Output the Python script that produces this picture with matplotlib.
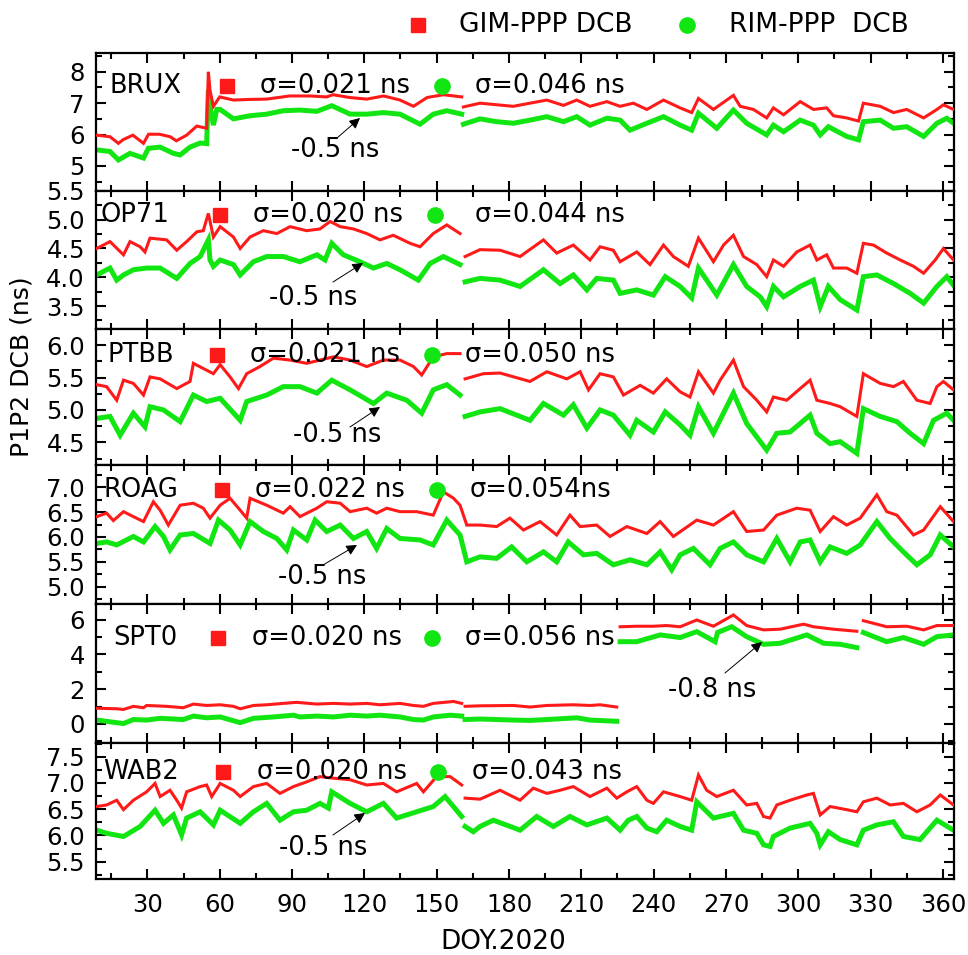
import numpy as np
import matplotlib
matplotlib.use("Agg")
import matplotlib.pyplot as plt
from matplotlib.ticker import MultipleLocator, FormatStrFormatter
from matplotlib.lines import Line2D

plt.rcParams['font.family'] = ['DejaVu Sans']
nan = np.nan

# ---------------- data (DOY, DCB in ns) ----------------
stations = ["BRUX", "OP71", "PTBB", "ROAG", "SPT0", "WAB2"]
sigma_gim = ["σ=0.021 ns", "σ=0.020 ns", "σ=0.021 ns", "σ=0.022 ns", "σ=0.020 ns", "σ=0.020 ns"]
sigma_rim = ["σ=0.046 ns", "σ=0.044 ns", "σ=0.050 ns", "σ=0.054ns", "σ=0.056 ns", "σ=0.043 ns"]
offset_labels = ["-0.5 ns", "-0.5 ns", "-0.5 ns", "-0.5 ns", "-0.8 ns", "-0.5 ns"]

brux_gim = [(9,5.98),(14.5,5.93),(18,5.72),(20,5.84),(24,5.98),(28.4,5.72),(30.5,6.01),(35,6.01),(39.5,5.93),
            (42,5.80),(46.3,5.98),(50.5,6.27),(54.6,6.2),(55.3,8.0),(56,7.4),(57.4,6.9),(60,7.2),(65.7,7.1),
            (72.6,7.12),(79.5,7.13),(89,7.23),(97.5,7.23),(104.4,7.2),(107,7.27),(114,7.18),(121,7.13),(128,7.23),
            (134.8,7.1),(140.4,6.9),(146,7.18),(152.8,7.27),(160.4,7.2),(160.8,nan),(161.1,6.88),(168,7.0),
            (174.9,6.95),(181.8,6.9),(188.7,7.0),(195.7,7.1),(202.6,6.93),(208.1,7.1),(213.6,6.9),(220.6,7.05),
            (226.1,6.9),(231.6,7.0),(237.2,6.8),(244.1,7.1),(251,6.85),(255.8,6.7),(258.6,7.15),(264.8,6.8),
            (273.1,7.25),(275.9,6.9),(281.4,6.8),(286.9,6.53),(289.7,6.85),(293.9,6.63),(300.8,7.05),(306.3,6.8),
            (311.8,6.85),(314.6,6.6),(320.1,6.53),(325,6.43),(327,7.0),(334,6.9),(339.5,6.7),(345,6.8),(352,6.53),
            (357.5,6.8),(360.2,6.95),(364.4,6.8)]
brux_rim = [(9,5.51),(14.5,5.46),(18,5.19),(22.8,5.4),(28.4,5.25),(30.4,5.56),(35.3,5.6),(40.8,5.4),(43.6,5.35),
            (47.7,5.6),(51.9,5.73),(54.6,5.71),(55.3,7.42),(56,6.9),(57.4,6.3),(58.8,6.8),(60.2,6.8),(65.7,6.5),
            (72.6,6.6),(79.5,6.65),(86.4,6.76),(93.3,6.78),(100.3,6.74),(106.5,6.92),(114.1,6.65),(121,6.65),
            (127.9,6.7),(134.8,6.65),(143.1,6.33),(148.6,6.65),(154.2,6.76),(160.4,6.65),(160.8,nan),(161.1,6.33),
            (168,6.5),(174.9,6.41),(181.8,6.36),(188.7,6.46),(195.7,6.57),(202.6,6.41),(208.1,6.57),(213.6,6.30),
            (220.6,6.52),(226.1,6.46),(230.2,6.14),(237.2,6.36),(244.1,6.57),(251,6.30),(255.8,6.14),(258.6,6.68),
            (266.2,6.2),(273.1,6.78),(278.6,6.36),(286.9,5.99),(289.7,6.30),(293.9,6.09),(300.8,6.46),(306.3,6.30),
            (309.1,5.99),(312.5,6.25),(320.1,5.94),(325,5.83),(327,6.41),(334,6.46),(339.5,6.2),(345,6.25),
            (352,5.94),(357.5,6.36),(361.6,6.52),(364.4,6.36)]

op71_gim = [(9,4.50),(14.5,4.62),(20.1,4.39),(22.8,4.62),(27,4.53),(29,4.44),(31.1,4.68),(38,4.65),(42.2,4.47),
            (46.3,4.62),(50.5,4.79),(53.2,4.81),(55.3,5.11),(57.4,4.70),(60.2,4.88),(65.7,4.70),(68.5,4.50),
            (72.6,4.70),(78.1,4.81),(83.7,4.76),(89.2,4.88),(96.1,4.81),(101.6,4.84),(105.8,4.97),(110,4.88),
            (115.5,4.84),(121,4.76),(126.5,4.65),(132,4.73),(139,4.59),(143.1,4.53),(148.6,4.76),(154.2,4.91),
            (159.7,4.76),(160.8,nan),(161.8,4.36),(168,4.48),(176.3,4.47),(184.6,4.36),(194.3,4.65),(199.8,4.42),
            (206.7,4.56),(213.6,4.30),(217.8,4.53),(223.3,4.47),(226.1,4.27),(233,4.44),(238.5,4.22),(244.1,4.56),
            (248.2,4.36),(254.4,4.19),(258.6,4.68),(264.8,4.27),(269,4.56),(273.1,4.73),(277.3,4.36),(282.8,4.22),
            (286.9,4.01),(289.7,4.30),(293.9,4.19),(299.4,4.44),(304.9,4.56),(307.7,4.30),(311.8,4.39),(314.6,4.16),
            (320.1,4.16),(324.3,4.07),(327,4.59),(331.2,4.56),(336.7,4.42),(342.3,4.30),(347.8,4.19),(352,4.07),
            (356.8,4.30),(360.2,4.50),(364.4,4.30)]
op71_rim = [(9,4.04),(14.5,4.16),(17.3,3.95),(20.1,4.04),(24.2,4.13),(29.7,4.16),(35.3,4.16),(42.2,3.98),(47.7,4.24),
            (51.9,4.36),(55.3,4.65),(56,4.3),(57.4,4.19),(60.2,4.30),(65.7,4.22),(68.5,4.04),(74,4.27),(79.5,4.36),
            (86.4,4.36),(93.3,4.27),(100.3,4.39),(103.7,4.30),(106.5,4.59),(111.3,4.39),(118.2,4.27),(123.8,4.16),
            (129.3,4.24),(134.8,4.13),(142.4,3.95),(147.3,4.24),(152.8,4.36),(159.7,4.22),(160.8,nan),(161.8,3.92),
            (168,3.98),(176.3,3.95),(184.6,3.84),(194.3,4.13),(201.2,3.89),(206.7,4.04),(212.3,3.78),(216.4,3.98),
            (223.3,3.95),(226.1,3.72),(233,3.78),(239.9,3.69),(244.8,4.01),(251,3.84),(255.8,3.64),(258.6,4.16),
            (266.2,3.69),(273.1,4.22),(278.6,3.84),(284.2,3.66),(286.9,3.49),(289.7,3.84),(293.9,3.66),(300.8,3.84),
            (306.3,3.95),(309.1,3.49),(312.5,3.84),(317.4,3.61),(324.3,3.43),(327,4.01),(332.6,4.04),(339.5,3.89),
            (346.4,3.72),(352,3.55),(357.5,3.84),(361.6,4.01),(364.4,3.86)]

ptbb_gim = [(9,5.39),(13.1,5.36),(17.3,5.15),(20.1,5.46),(24.2,5.41),(28.4,5.23),(31.1,5.51),(35.3,5.48),(42.2,5.33),
            (47.7,5.44),(49.1,5.72),(53.2,5.64),(57.4,5.56),(60.2,5.70),(64.3,5.51),(67.8,5.33),(71.2,5.56),
            (76.7,5.67),(82.3,5.80),(89.2,5.77),(96.1,5.72),(101.6,5.77),(107.2,5.82),(114.1,5.77),(121,5.67),
            (127.9,5.77),(134.8,5.77),(140.4,5.67),(143.8,5.54),(148.6,5.82),(154.2,5.87),(159.7,5.87),(160.8,nan),
            (161.8,5.48),(169.4,5.56),(176.3,5.57),(188.7,5.44),(195.7,5.59),(204,5.48),(209.5,5.59),(213,5.31),
            (217.8,5.56),(223.3,5.51),(227.5,5.23),(234.4,5.38),(239.9,5.26),(245.4,5.48),(251,5.28),(255.1,5.20),
            (258.6,5.59),(264.8,5.26),(267.6,5.46),(273.1,5.77),(277.3,5.36),(282.8,5.15),(286.9,4.97),(289.7,5.20),
            (295.2,5.15),(300.8,5.33),(304.9,5.46),(307.7,5.15),(313.2,5.10),(317.4,5.05),(324.3,4.90),(327,5.56),
            (334,5.41),(339.5,5.36),(343.6,5.44),(349.2,5.15),(354.7,5.10),(357.5,5.36),(360.2,5.44),(364.4,5.31)]
ptbb_rim = [(9,4.87),(14.5,4.90),(18.7,4.61),(24.2,4.95),(29,4.74),(31.1,5.05),(36.7,5.0),(43.6,4.82),(49.1,5.23),
            (54.6,5.13),(60.2,5.18),(68.5,4.84),(71.2,5.13),(79.5,5.23),(86.4,5.36),(93.3,5.36),(100.3,5.26),
            (106.5,5.46),(114.1,5.31),(123.8,5.10),(129.3,5.26),(137.6,5.15),(143.8,4.95),(148.6,5.31),(154.2,5.39),
            (159.7,5.23),(160.8,nan),(161.8,4.90),(168,4.97),(176.3,5.02),(188.7,4.84),(194.3,5.10),(202.6,4.92),
            (206.7,5.08),(212.3,4.72),(217.8,5.0),(223.3,4.92),(230.2,4.61),(233,4.84),(239.9,4.66),(244.8,4.97),
            (251,4.77),(255.1,4.61),(258.6,5.05),(264.8,4.64),(273.1,5.26),(278.6,4.79),(286.9,4.38),(291.1,4.64),
            (296.6,4.66),(304.9,4.92),(307.7,4.64),(313.2,4.48),(317.4,4.51),(324.3,4.33),(327,5.02),(334,4.90),
            (340.9,4.82),(346.4,4.64),(352,4.48),(356.1,4.84),(361.6,4.95),(364.4,4.84)]

roag_gim = [(9,6.41),(13.1,6.48),(15.9,6.33),(20.1,6.51),(24.2,6.41),(28.4,6.31),(32.5,6.71),(35.3,6.54),(38.7,6.24),
            (43.6,6.64),(49.1,6.68),(53.2,6.58),(56,6.38),(60.2,6.64),(64.3,6.78),(68.5,6.54),(71.2,6.38),(72.6,6.78),
            (79.5,6.64),(86.4,6.48),(89.2,6.61),(93.3,6.41),(100.3,6.58),(104.4,6.71),(110,6.68),(114.1,6.51),
            (121,6.58),(125.1,6.48),(129.3,6.58),(134.8,6.51),(141.7,6.51),(148.6,6.44),(152.8,6.91),(157,6.78),
            (159.7,6.64),(162.5,6.24),(168,6.24),(174.9,6.21),(180.4,6.38),(186,6.14),(192.9,6.31),(199.8,6.04),
            (205.3,6.44),(209.5,6.21),(216.4,6.24),(221.9,6.01),(228.9,6.21),(237.2,6.07),(242.7,6.31),(248.2,6.01),
            (257.9,6.34),(264.8,6.24),(273.1,6.51),(278.6,6.11),(285.6,6.14),(291.1,6.44),(299.4,6.58),(304.9,6.54),
            (309.1,6.11),(314.6,6.41),(320.1,6.24),(325.7,6.38),(332.6,6.85),(336.7,6.51),(340.9,6.44),(347.8,6.04),
            (352,6.14),(358.9,6.61),(364.4,6.31)]
roag_rim = [(9,5.87),(13.1,5.90),(17.3,5.84),(24.2,6.01),(28.4,5.90),(33.2,6.21),(36.7,6.01),(39.4,5.74),(43.6,6.04),
            (49.1,6.07),(56,5.87),(59.5,6.34),(64.3,6.14),(68.5,5.84),(72.6,6.31),(78.1,6.11),(83.7,5.97),(87.8,5.74),
            (90.6,6.14),(96.1,5.94),(99.6,6.34),(104.4,6.11),(110,6.24),(115.5,5.97),(121,6.11),(125.1,5.77),
            (129.3,6.17),(134.8,5.97),(143.1,5.94),(148.6,5.84),(154.2,6.34),(159.7,6.04),(162.5,5.50),(168,5.60),
            (174.9,5.57),(181.1,5.80),(187.4,5.50),(194.3,5.70),(199.8,5.50),(204.6,5.90),(210.9,5.64),(216.4,5.67),
            (223.3,5.44),(230.2,5.54),(237.2,5.44),(242.7,5.70),(247.5,5.34),(251,5.64),(256.5,5.77),(263.4,5.44),
            (267.6,5.77),(273.1,5.90),(278.6,5.64),(285.6,5.50),(291.1,5.97),(296.6,5.50),(300.8,5.90),(304.9,5.94),
            (309.1,5.50),(313.2,5.80),(320.1,5.67),(325.7,5.84),(332.6,6.31),(338.1,5.97),(343.6,5.70),(349.2,5.44),
            (354.7,5.64),(358.9,6.04),(364.4,5.80)]

spt0_gim = [(9,0.90),(17.3,0.87),(20.1,0.83),(24.2,1.01),(28.4,0.93),(29.7,1.06),(38,1.01),(44.9,0.93),(49.1,1.14),
            (54.6,1.06),(60.2,1.10),(65.7,1.01),(68.5,0.87),(74,1.06),(79.5,1.10),(86.4,1.18),(91.9,1.24),(100.3,1.14),
            (107.2,1.18),(114.1,1.14),(121,1.18),(126.5,1.10),(134.8,1.18),(140.4,1.06),(144.5,1.01),(148.6,1.18),
            (157,1.29),(160.4,1.18),(160.8,nan),(161.8,1.01),(168,1.04),(181.8,1.06),(188.7,0.97),(195.7,1.06),
            (206.7,1.10),(213.6,1.06),(217.8,1.10),(224.7,0.97),(225.4,nan),(226.1,5.59),(233,5.62),(239.9,5.62),
            (245.4,5.66),(251,5.59),(257.9,5.98),(264.8,5.62),(273.1,6.27),(278.6,5.66),(285.6,5.41),(292.5,5.45),
            (302.2,5.74),(306.3,5.59),(314.6,5.45),(324.3,5.33),(325.5,nan),(327,5.94),(336.7,5.59),(345,5.62),
            (352,5.41),(357.5,5.66),(364.4,5.66)]
spt0_rim = [(9,0.22),(14.5,0.12),(20.1,0.02),(24.2,0.25),(29.7,0.22),(35.3,0.32),(44.9,0.25),(49.1,0.45),(54.6,0.35),
            (60.2,0.40),(68.5,0.07),(74,0.32),(82.3,0.40),(90.6,0.50),(93.3,0.40),(100.3,0.45),(107.2,0.40),
            (114.1,0.50),(121,0.45),(126.5,0.50),(134.8,0.40),(140.4,0.25),(144.5,0.22),(148.6,0.40),(155.6,0.50),
            (160.4,0.45),(160.8,nan),(161.8,0.25),(168,0.28),(181.8,0.22),(188.7,0.2),(195.7,0.25),(208.1,0.35),
            (213.6,0.22),(224.7,0.15),(225.4,nan),(226.1,4.73),(233,4.73),(242.7,5.12),(251,4.97),(257.9,5.31),
            (265.5,4.73),(266.5,5.26),(272.4,5.59),(278.6,5.02),(285.6,4.58),(292.5,4.64),(303.5,5.12),(310.5,4.64),
            (317.4,4.58),(324.3,4.39),(325.5,nan),(327,5.26),(336.7,4.73),(343.6,4.97),(352,4.58),(357.5,5.02),
            (364.4,5.12)]

wab2_gim = [(9,6.55),(13.1,6.58),(17.3,6.67),(20.1,6.49),(24.2,6.67),(29.7,6.83),(33.2,6.99),(35.3,6.74),(39.4,6.86),
            (42.2,6.67),(44.2,6.52),(46.3,6.83),(51.9,6.93),(54.6,6.96),(56.7,6.74),(60.2,6.99),(65.7,6.86),(68.5,6.74),
            (74,6.93),(79.5,6.99),(85,6.80),(90.6,6.93),(96.1,7.02),(101.6,7.12),(107.2,7.09),(114.1,7.06),(121,6.96),
            (127.9,6.99),(133.4,6.83),(141.7,6.99),(144.5,6.83),(150,7.12),(155.6,7.12),(160.4,6.96),(160.8,nan),
            (161.8,6.71),(168,6.69),(176.3,6.86),(184.6,6.67),(190.1,6.90),(195.7,6.80),(201.2,6.86),(206.7,6.93),
            (213.6,6.74),(220.6,6.90),(224.7,6.71),(228.9,6.83),(233,6.93),(237.2,6.67),(239.9,6.61),(244.1,6.83),
            (251,6.74),(255.8,6.67),(258.6,7.15),(262,6.86),(266.2,6.74),(273.1,6.86),(278.6,6.58),(282.8,6.61),
            (285.6,6.36),(288.3,6.33),(291.1,6.58),(296.6,6.67),(303.5,6.77),(306.3,6.80),(309.1,6.39),(313.2,6.55),
            (320.1,6.49),(324.3,6.45),(327,6.64),(332.6,6.71),(338.1,6.58),(343.6,6.61),(349.2,6.45),(354.7,6.58),
            (358.9,6.77),(364.4,6.58)]
wab2_rim = [(9,6.10),(13.1,6.04),(20.1,5.98),(27,6.17),(33.2,6.48),(36.7,6.23),(40.8,6.39),(44.2,6.01),(46.3,6.33),
            (51.9,6.45),(57.4,6.20),(60.2,6.48),(68.5,6.23),(74,6.45),(79.5,6.61),(85,6.29),(90.6,6.45),(96.1,6.48),
            (101.6,6.61),(105.1,6.52),(106.5,6.83),(114.1,6.61),(121,6.45),(127.9,6.61),(133.4,6.33),(141.7,6.45),
            (148.6,6.55),(153.5,6.74),(160.4,6.36),(160.8,nan),(161.8,6.17),(165.2,6.07),(168,6.17),(173.5,6.29),
            (184.6,6.10),(191.5,6.36),(198.4,6.17),(205.3,6.36),(212.3,6.20),(220.6,6.33),(226.1,6.10),(229.5,6.29),
            (233,6.36),(237.2,6.14),(241.3,6.07),(245.4,6.29),(251,6.17),(255.8,6.10),(257.9,6.64),(264.8,6.33),
            (273.1,6.42),(277.3,6.10),(282.8,6.04),(285.6,5.82),(288.3,5.79),(289.7,5.98),(296.6,6.14),(304.9,6.23),
            (307.7,6.04),(309.1,5.82),(312.5,6.07),(317.4,5.92),(324.3,5.82),(327,6.10),(332.6,6.20),(339.5,6.26),
            (343.6,5.98),(350.5,5.92),(357.5,6.29),(364.4,6.10)]

gim_series = [brux_gim, op71_gim, ptbb_gim, roag_gim, spt0_gim, wab2_gim]
rim_series = [brux_rim, op71_rim, ptbb_rim, roag_rim, spt0_rim, wab2_rim]

ylims = [(4.2, 8.6), (3.1, 5.5), (4.15, 6.25), (4.65, 7.45), (-1.1, 6.9), (5.17, 7.76)]
ymajor = [1.0, 0.5, 0.5, 0.5, 2.0, 0.5]
yfmt = ['%d', '%.1f', '%.1f', '%.1f', '%d', '%.1f']

# ---------------- layout (pixel based) ----------------
W, H = 968, 955
RED = '#ff1a1a'
GREEN = '#12e612'
edges = [53, 191, 329, 465, 604, 743, 879]
xl, xr = 96, 954

def fx(px):
    return px / W

def fy(py):
    return 1 - py / H

fig = plt.figure(figsize=(W / 100, H / 100), dpi=100)
fig.patch.set_facecolor('white')

row_y = [86, 215, 355, 490, 638, 772]
name_x = [110, 100, 108, 104, 113, 103]
sq_x = [227, 220, 217, 222, 218, 223]
s1_x = [260, 253, 250, 255, 252, 257]
ci_x = [442, 435, 432, 437, 432, 438]
s2_x = [475, 475, 465, 470, 465, 472]
ann_text = [(335, 150), (313, 298), (337, 435), (322, 577), (712, 690), (323, 848)]
ann_tail = [(337, 138), (333, 282), (350, 427), (323, 565), (725, 673), (333, 835)]
ann_head = [(360, 118), (363, 263), (380, 407), (357, 545), (762, 642), (365, 813)]

axes = []
for i in range(6):
    top, bot = edges[i], edges[i + 1]
    ax = fig.add_axes([fx(xl), fy(bot), fx(xr - xl), (bot - top) / H])
    axes.append(ax)
    g = np.array(gim_series[i], dtype=float)
    r = np.array(rim_series[i], dtype=float)
    ax.plot(r[:, 0], r[:, 1], color=GREEN, lw=3.6, solid_joinstyle='miter', zorder=2)
    ax.plot(g[:, 0], g[:, 1], color=RED, lw=2.2, solid_joinstyle='miter', zorder=3)
    ax.set_xlim(8.7, 364.6)
    ax.set_ylim(*ylims[i])
    ax.xaxis.set_major_locator(MultipleLocator(30))
    ax.xaxis.set_minor_locator(MultipleLocator(15))
    ax.yaxis.set_major_locator(MultipleLocator(ymajor[i]))
    ax.yaxis.set_minor_locator(MultipleLocator(ymajor[i] / 2))
    ax.yaxis.set_major_formatter(FormatStrFormatter(yfmt[i]))
    ax.tick_params(which='both', direction='in', top=True, right=True, width=1.5)
    ax.tick_params(which='major', length=7)
    ax.tick_params(which='minor', length=4)
    ax.tick_params(axis='y', labelsize=17.5, pad=8)
    ax.tick_params(axis='x', labelsize=17.5, pad=10)
    if i < 5:
        ax.tick_params(axis='x', labelbottom=False)
    for s in ax.spines.values():
        s.set_linewidth(1.6)

    yc = fy(row_y[i])
    fig.text(fx(name_x[i]), yc, stations[i], fontsize=18.5, va='center', ha='left')
    fig.add_artist(Line2D([fx(sq_x[i])], [yc], marker='s', color=RED, ms=9.5, ls='none'))
    fig.text(fx(s1_x[i]), yc, sigma_gim[i], fontsize=18.5, va='center', ha='left')
    fig.add_artist(Line2D([fx(ci_x[i])], [yc], marker='o', color=GREEN, ms=11, ls='none'))
    fig.text(fx(s2_x[i]), yc, sigma_rim[i], fontsize=18.5, va='center', ha='left')

    tx, ty = ann_text[i]
    fig.text(fx(tx), fy(ty), offset_labels[i], fontsize=18.5, va='center', ha='center')
    ax.annotate('', xy=(fx(ann_head[i][0]), fy(ann_head[i][1])), xycoords='figure fraction',
                xytext=(fx(ann_tail[i][0]), fy(ann_tail[i][1])), textcoords='figure fraction',
                arrowprops=dict(arrowstyle='-|>', color='black', lw=0.7, mutation_scale=16,
                                shrinkA=0, shrinkB=0))

# top legend
fig.add_artist(Line2D([fx(418)], [fy(25)], marker='s', color=RED, ms=10, ls='none'))
fig.text(fx(459), fy(25), "GIM-PPP DCB", fontsize=19, va='center', ha='left')
fig.add_artist(Line2D([fx(687)], [fy(25)], marker='o', color=GREEN, ms=11, ls='none'))
fig.text(fx(729), fy(25), "RIM-PPP  DCB", fontsize=19, va='center', ha='left')

# axis labels
fig.text(fx(503), fy(942), "DOY.2020", fontsize=19, va='center', ha='center')
fig.text(fx(22), fy(367), "P1P2 DCB (ns)", fontsize=18, va='center', ha='center', rotation=90)

fig.savefig("out.png", dpi=100, facecolor='white')
